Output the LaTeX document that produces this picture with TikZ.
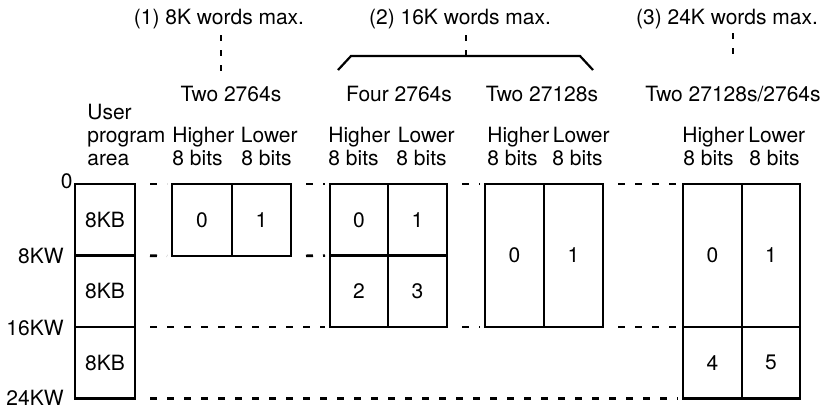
\documentclass[tikz,border=0pt]{standalone}
\usepackage{fontspec}
\setmainfont{TeX Gyre Heros}
\begin{document}
\begin{tikzpicture}[x=0.5pt,y=-0.5pt,
  txt/.style={font=\fontsize{10.5}{12}\selectfont, inner sep=0pt},
  cell/.style={draw, line width=1.2pt, anchor=north west, outer sep=0pt, inner sep=0pt,
    font=\fontsize{10.5}{12}\selectfont},
  memdash/.style={line width=1.3pt, dash pattern=on 3.5pt off 5pt, dash phase=3.5pt,
    shorten <=2.5pt, shorten >=2.5pt},
  vdash/.style={line width=1.3pt, dash pattern=on 3pt off 4.5pt},
  brace/.style={line width=1.1pt}]
\useasboundingbox (0,0) rectangle (824,408);

% user program area column
\node[cell, minimum width=30pt, minimum height=35.75pt] (u1) at (75,184) {8KB};
\node[cell, minimum width=30pt, minimum height=35.75pt] (u2) at (75,255.5) {8KB};
\node[cell, minimum width=30pt, minimum height=35.75pt] (u3) at (75,327) {8KB};

% group 1
\node[cell, minimum width=30pt, minimum height=36pt] (g1a) at (172,184) {0};
\node[cell, minimum width=29.5pt, minimum height=36pt] (g1b) at (232,184) {1};

% group 2
\node[cell, minimum width=29pt, minimum height=35.75pt] (g2a) at (330,184) {0};
\node[cell, minimum width=29.5pt, minimum height=35.75pt] (g2b) at (388,184) {1};
\node[cell, minimum width=29pt, minimum height=35.75pt] (g2c) at (330,255.5) {2};
\node[cell, minimum width=29.5pt, minimum height=35.75pt] (g2d) at (388,255.5) {3};

% group 3
\node[cell, minimum width=29.5pt, minimum height=71.5pt] (g3a) at (485,184) {0};
\node[cell, minimum width=29.5pt, minimum height=71.5pt] (g3b) at (544,184) {1};

% group 4
\node[cell, minimum width=29.5pt, minimum height=71.5pt] (g4a) at (683,184) {0};
\node[cell, minimum width=29pt, minimum height=71.5pt] (g4b) at (742,184) {1};
\node[cell, minimum width=29.5pt, minimum height=35.75pt] (g4c) at (683,327) {4};
\node[cell, minimum width=29pt, minimum height=35.75pt] (g4d) at (742,327) {5};

% dashed boundary lines
\draw[memdash] (u1.north east) -- (g1a.north west);
\draw[memdash] (g1b.north east) -- (g2a.north west);
\draw[memdash] (g2b.north east) -- (g3a.north west);
\draw[memdash] (g3b.north east) -- (g4a.north west);
\draw[memdash] (u1.south east) -- (g1a.south west);
\draw[memdash] (g1b.south east) -- (g2c.north west);
\draw[memdash] (u2.south east) -- (g2c.south west);
\draw[memdash] (g2d.south east) -- (g3a.south west);
\draw[memdash] (g3b.south east) -- (g4c.north west);
\draw[memdash] (u3.south east) -- (g4c.south west);

% address labels
\node[txt, anchor=base east] (a0) at (73,188) {0};
\node[txt, anchor=base east] (a8) at (64,263) {8KW};
\node[txt, anchor=base east] (a16) at (64,335) {16KW};
\node[txt, anchor=base east] (a24) at (64,405) {24KW};

% user program area heading
\node[txt, anchor=base west] (h1) at (87,119) {User};
\node[txt, anchor=base west] (h2) at (87,142) {program};
\node[txt, anchor=base west] (h3) at (87,165) {area};

% column headings
\node[txt, anchor=base west] (g1h) at (172,142) {Higher};
\node[txt, anchor=base east] (g1l) at (298,142) {Lower};
\node[txt, anchor=base west] (g1hb) at (172,165) {8 bits};
\node[txt, anchor=base east] (g1lb) at (292,165) {8 bits};

\node[txt, anchor=base west] (g2h) at (328,142) {Higher};
\node[txt, anchor=base east] (g2l) at (455,142) {Lower};
\node[txt, anchor=base west] (g2hb) at (328,165) {8 bits};
\node[txt, anchor=base east] (g2lb) at (447,165) {8 bits};

\node[txt, anchor=base west] (g3h) at (487,142) {Higher};
\node[txt, anchor=base east] (g3l) at (610,142) {Lower};
\node[txt, anchor=base west] (g3hb) at (487,165) {8 bits};
\node[txt, anchor=base east] (g3lb) at (603,165) {8 bits};

\node[txt, anchor=base west] (g4h) at (682,142) {Higher};
\node[txt, anchor=base west] (g4l) at (748,142) {Lower};
\node[txt, anchor=base west] (g4hb) at (683,165) {8 bits};
\node[txt, anchor=base east] (g4lb) at (800,165) {8 bits};

% device labels
\node[txt, anchor=base] (s1) at (231,101) {Two 2764s};
\node[txt, anchor=base] (s2) at (399,101) {Four 2764s};
\node[txt, anchor=base] (s3) at (542,101) {Two 27128s};
\node[txt, anchor=base] (s4) at (733,101) {Two 27128s/2764s};

% top titles
\node[txt, anchor=base] (t1) at (219,24) {(1) 8K words max.};
\node[txt, anchor=base] (t2) at (460,24) {(2) 16K words max.};
\node[txt, anchor=base] (t3) at (727,24) {(3) 24K words max.};

% brace for group 2
\coordinate (b2l) at (338,70);
\coordinate (b2lc) at (351,56);
\coordinate (b2m) at (466,56);
\coordinate (b2rc) at (580,56);
\coordinate (b2r) at (593,70);
\draw[brace] (b2l) -- (b2lc) -- (b2rc) -- (b2r);

% vertical dashed links
\coordinate (e1) at (221,74);
\coordinate (e2top) at (466,35);
\coordinate (e3) at (733,55);
\draw[vdash] (e1 |- 0,35) -- (e1);
\draw[vdash] (e2top) -- (b2m);
\draw[vdash] (e3 |- 0,33) -- (e3);
\end{tikzpicture}
\end{document}
